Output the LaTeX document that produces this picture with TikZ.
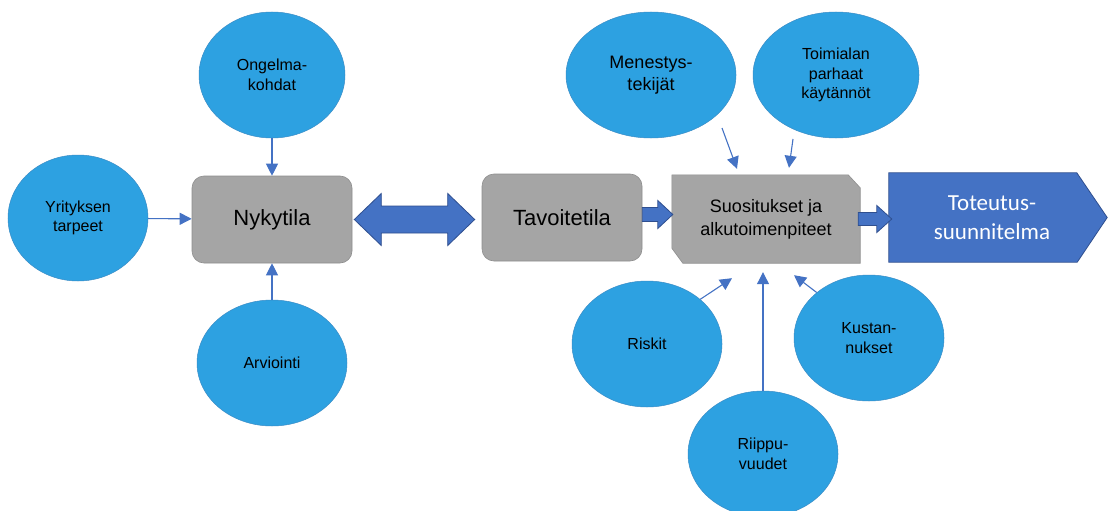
\documentclass[tikz,border=0pt]{standalone}
\usepackage{fontspec}
\setmainfont{Liberation Sans}
\newfontfamily\calibrifont{Carlito}
\usetikzlibrary{shapes.geometric,arrows.meta,calc,backgrounds}

\definecolor{bubble}{HTML}{2DA1E1}
\definecolor{bubbleline}{HTML}{3A8CC6}
\definecolor{boxgray}{HTML}{A5A5A5}
\definecolor{boxline}{HTML}{8E8E8E}
\definecolor{accent}{HTML}{4472C4}
\definecolor{accentline}{HTML}{2F4F8F}

\tikzset{
  bubblenode/.style={ellipse, fill=bubble, draw=bubbleline, line width=0.5pt,
    inner sep=0pt, align=center, font=\fontsize{16}{19.5}\selectfont},
  statebox/.style={rectangle, rounded corners=12pt, fill=boxgray, draw=boxline,
    line width=0.6pt, minimum width=160pt, minimum height=87pt,
    font=\fontsize{22}{26}\selectfont},
  shapeframe/.style={fill=boxgray, draw=boxline, line width=0.6pt},
  link/.style={draw=accent, line width=1.1pt, -{Triangle[length=12pt,width=12pt]}},
  fatarrow/.style={fill=accent, draw=accentline, line width=0.8pt, line join=miter},
}

\begin{document}
\begin{tikzpicture}[x=1pt,y=-1pt]
  \useasboundingbox (0,0) rectangle (1108,511);
  \clip (0,0) rectangle (1108,511);

  % main boxes
  \node[statebox] (nyk) at (272,219.5) {Nykytila};
  \node[statebox] (tav) at (562,217.5) {Tavoitetila};
  \node[minimum width=188pt, minimum height=88pt, inner sep=0pt, align=center,
        font=\fontsize{18}{23}\selectfont] (sug) at (766,219)
        {Suositukset ja\\alkutoimenpiteet};
  \node[minimum width=206pt, minimum height=89pt, inner sep=0pt, align=center,
        text=white, font=\calibrifont\fontsize{23}{29}\selectfont] (plan) at (992,217.5)
        {Toteutus-\\suunnitelma};

  \begin{scope}[on background layer]
    \fill[white] (0,0) rectangle (1108,511);
    % snipped-corner box behind the recommendations text
    \draw[shapeframe] (sug.north west) -- ([xshift=-12pt]sug.north east)
      -- ([yshift=-13pt]sug.north east) -- (sug.south east)
      -- ([xshift=11pt]sug.south west) -- ([yshift=15pt]sug.south west) -- cycle;
    % pentagon behind the plan text
    \draw[fill=accent, draw=accentline, line width=0.8pt]
      (plan.north west) -- ++(188,0) -- ([xshift=12pt]plan.east)
      -- ([xshift=-18pt]plan.south east) -- (plan.south west) -- cycle;
  \end{scope}

  % surrounding ellipses
  \node[bubblenode, minimum width=146pt, minimum height=126pt] (ong) at (272,75) {Ongelma-\\kohdat};
  \node[bubblenode, minimum width=140pt, minimum height=126pt] (yri) at (78,218) {Yrityksen\\tarpeet};
  \node[bubblenode, minimum width=150pt, minimum height=126pt] (arv) at (272,363) {Arviointi};
  \node[bubblenode, minimum width=170pt, minimum height=126pt,
        font=\fontsize{18}{22}\selectfont] (men) at (651,75) {Menestys-\\tekijät};
  \node[bubblenode, minimum width=166pt, minimum height=126pt] (toi) at (836,75)
        {Toimialan\\parhaat\\käytännöt};
  \node[bubblenode, minimum width=150pt, minimum height=126pt] (ris) at (647,344) {Riskit};
  \node[bubblenode, minimum width=150pt, minimum height=126pt] (rip) at (763,454) {Riippu-\\vuudet};
  \node[bubblenode, minimum width=150pt, minimum height=126pt] (kus) at (869,338) {Kustan-\\nukset};

  % thin connectors
  \draw[link] (ong) -- (nyk);
  \draw[link] (yri) -- (nyk);
  \draw[link] (arv) -- (nyk);
  \draw[link] ([shift={(71,53)}]men.center) -- ([shift={(-29,-6)}]sug.north);
  \draw[link] ([shift={(-43,64)}]toi.center) -- ([shift={(23,-7)}]sug.north);
  \draw[link] (ris.40) -- ([shift={(-34,15)}]sug.south);
  \draw[link] (rip.north) -- ([shift={(-3,9)}]sug.south);
  \draw[link] (kus.139) -- ([shift={(28,12)}]sug.south);

  % double block arrow between current and target state
  \draw[fatarrow] let \p1=([xshift=2pt]nyk.east), \p2=([xshift=-7pt]tav.west) in
    (\x1,\y1) -- (\x1+27pt,\y1+26pt) -- (\x1+27pt,\y1+13.5pt)
    -- (\x2-27pt,\y1+13.5pt) -- (\x2-27pt,\y1+26pt) -- (\x2,\y1)
    -- (\x2-27pt,\y1-26pt) -- (\x2-27pt,\y1-13.5pt)
    -- (\x1+27pt,\y1-13.5pt) -- (\x1+27pt,\y1-26pt) -- cycle;

  % block arrow: target state to recommendations
  \draw[fatarrow] let \p1=([yshift=3pt]tav.east), \p2=([xshift=1pt]sug.west) in
    (\x1,\y1+7pt) -- (\x2-15pt,\y1+7pt) -- (\x2-15pt,\y1+14pt) -- (\x2,\y1)
    -- (\x2-15pt,\y1-14pt) -- (\x2-15pt,\y1-7pt) -- (\x1,\y1-7pt) -- cycle;

  % block arrow: recommendations to plan
  \draw[fatarrow] let \p1=([xshift=-2pt]sug.east), \p2=([xshift=3pt]plan.west) in
    (\x1,\y1+6.5pt) -- (\x2-15pt,\y1+6.5pt) -- (\x2-15pt,\y1+13.5pt) -- (\x2,\y1)
    -- (\x2-15pt,\y1-13.5pt) -- (\x2-15pt,\y1-6.5pt) -- (\x1,\y1-6.5pt) -- cycle;
\end{tikzpicture}
\end{document}
